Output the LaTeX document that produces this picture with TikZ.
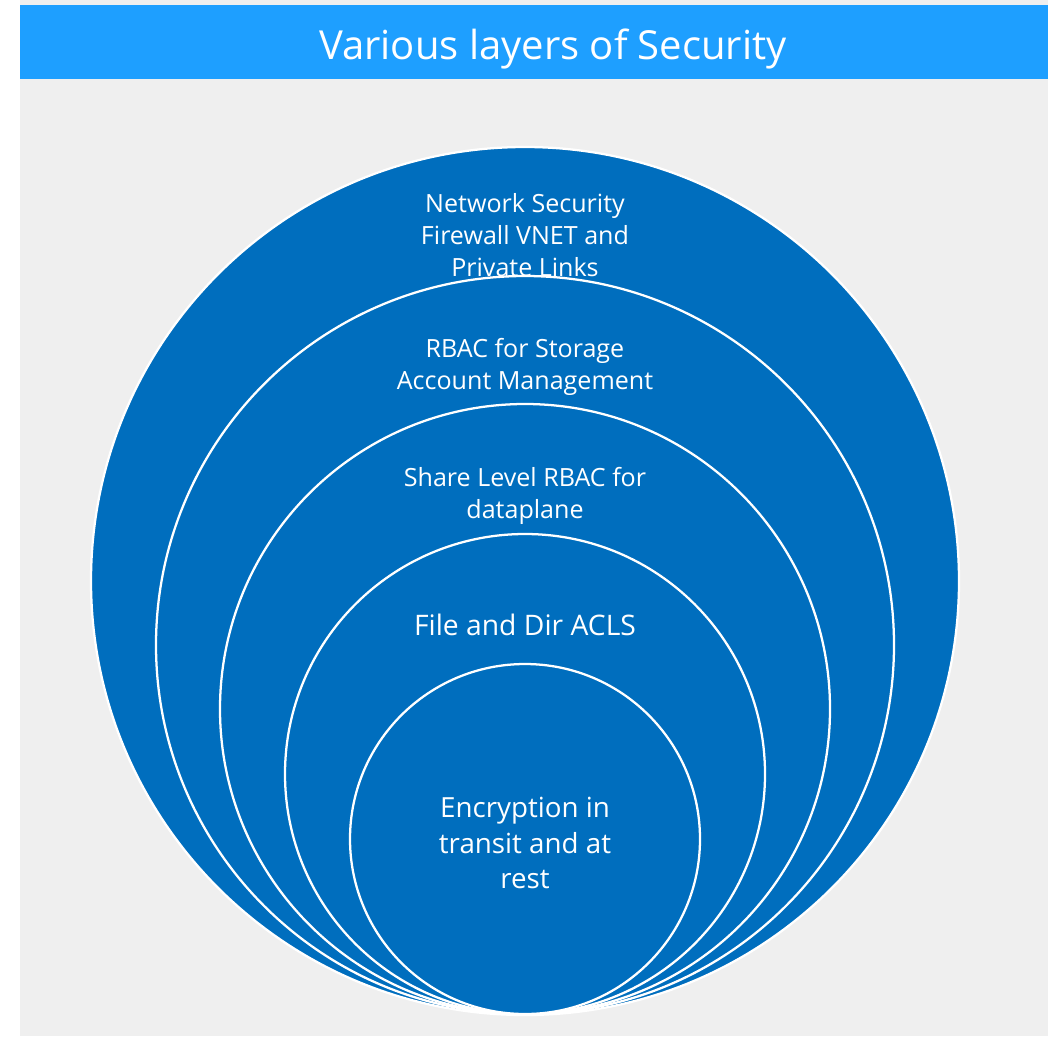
\documentclass[tikz,border=0pt]{standalone}
\usepackage{fontspec}
\setmainfont{Open Sans}
\definecolor{pagegray}{HTML}{EFEFEF}
\definecolor{barblue}{HTML}{1E9FFF}
\definecolor{ringblue}{HTML}{006EBE}
\begin{document}
\begin{tikzpicture}[x=0.75pt,y=-0.75pt,
  ring/.style={circle,fill=ringblue,draw=white,line width=1.7pt,inner sep=0pt,minimum size=#1},
  lbl/.style={text=white,align=center,font=\fontsize{18.8}{24}\selectfont},
  midlbl/.style={text=white,align=center,font=\fontsize{21.2}{26.5}\selectfont},
  biglbl/.style={text=white,align=center,font=\fontsize{20.8}{26.3}\selectfont}]
  % page and title bar
  \fill[white] (0,0) rectangle (1048,1036);
  \fill[pagegray] (20,0) rectangle (1048,1036);
  \useasboundingbox (0,0) rectangle (1048,1036);
  \fill[barblue] (20,5) rectangle (1048,79);
  \node[text=white,font=\fontsize{30}{36}\selectfont,anchor=base] (title) at (553,59) {Various layers of Security};
  % nested rings, all touching at the bottom
  \node[ring=651pt] (r1) at (525,581) {};
  \node[ring=553.5pt] (r2) at (525,645) {};
  \node[ring=457.5pt] (r3) at (525,709) {};
  \node[ring=360pt] (r4) at (525,774) {};
  \node[ring=262.5pt] (r5) at (525,839) {};
  % ring labels
  \node[lbl] (t1) at (525,235) {Network Security\\Firewall VNET and\\Private Links};
  \node[lbl] (t2) at (525,367) {RBAC for Storage\\Account Management};
  \node[lbl] (t3) at (525,496) {Share Level RBAC for\\dataplane};
  \node[midlbl] (t4) at (525,625) {File and Dir ACLS};
  \node[biglbl] (t5) at (525,843) {Encryption in\\transit and at\\rest};
\end{tikzpicture}
\end{document}
